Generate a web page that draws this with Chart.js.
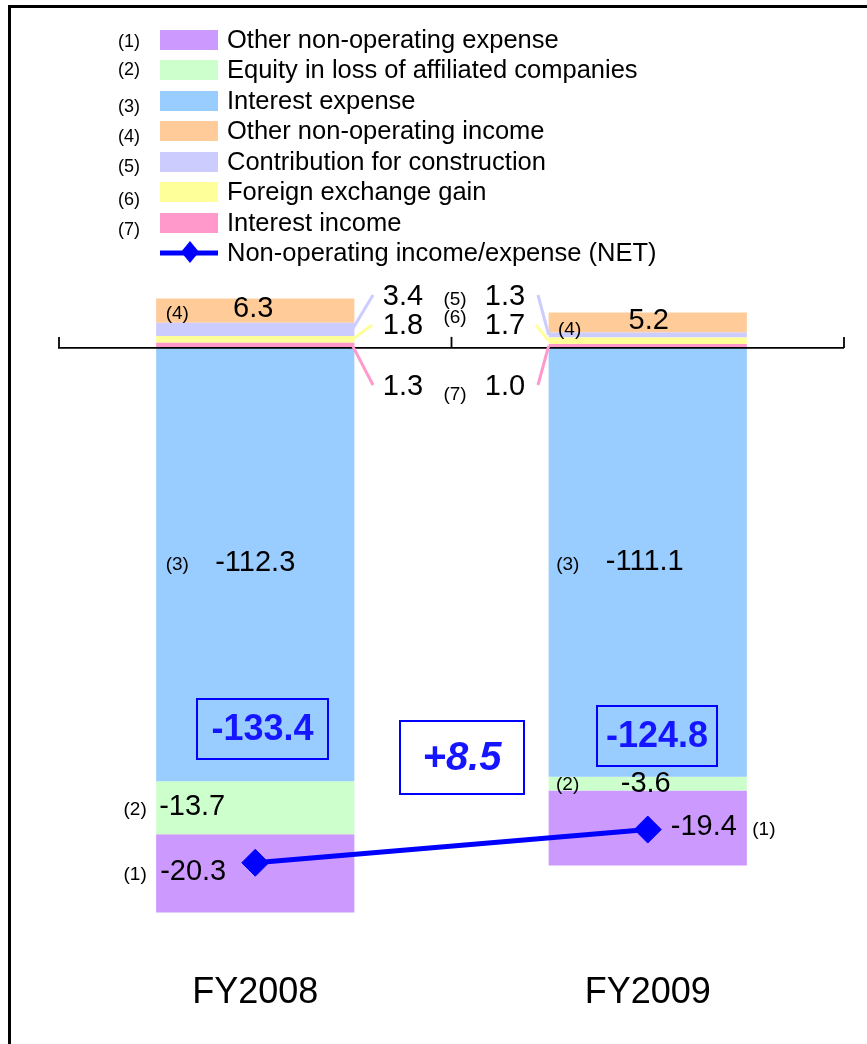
<!DOCTYPE html>
<html>
<head>
<meta charset="utf-8">
<script src="https://cdn.jsdelivr.net/npm/chart.js@4.4.0/dist/chart.umd.min.js"></script>
<style>
  html, body { margin: 0; padding: 0; background: #fff; }
  canvas { display: block; }
</style>
</head>
<body>
<canvas id="chart" width="867" height="1044"></canvas>
<script>
const categories = ["FY2008", "FY2009"];

const otherExpense = [-20.3, -19.4];
const equityLoss = [-13.7, -3.6];
const interestExpense = [-112.3, -111.1];
const otherIncome = [6.3, 5.2];
const contribution = [3.4, 1.3];
const fxGain = [1.8, 1.7];
const interestIncome = [1.3, 1.0];
const netTotal = [-133.4, -124.8];
const netChange = "+8.5";

const FONT = "Arial, 'Liberation Sans', sans-serif";
const BLUE = "#0000FF";
const VALUE_SIZE = 29;
const TAG_SIZE = 19;

// legend order (1)..(7)
const series = [
  { no: 1, label: "Other non-operating expense", data: otherExpense, color: "#CC99FF" },
  { no: 2, label: "Equity in loss of affiliated companies", data: equityLoss, color: "#CCFFCC" },
  { no: 3, label: "Interest expense", data: interestExpense, color: "#99CCFF" },
  { no: 4, label: "Other non-operating income", data: otherIncome, color: "#FFCC99" },
  { no: 5, label: "Contribution for construction", data: contribution, color: "#CCCCFF" },
  { no: 6, label: "Foreign exchange gain", data: fxGain, color: "#FFFF99" },
  { no: 7, label: "Interest income", data: interestIncome, color: "#FF99CC" },
];

// stacking goes outward from zero, so build the bars in that order
const stackOrder = [3, 2, 1, 7, 6, 5, 4];
const barSets = stackOrder.map((no) => {
  const s = series.find((x) => x.no === no);
  return {
    label: s.label,
    data: s.data,
    backgroundColor: s.color,
    borderWidth: 0,
    barPercentage: 0.505,
    categoryPercentage: 1,
    order: 1,
  };
});

const netSet = {
  type: "line",
  label: "Non-operating income/expense (NET)",
  data: netTotal,
  stack: "net",
  borderColor: BLUE,
  borderWidth: 5,
  backgroundColor: BLUE,
  pointStyle: "rectRot",
  pointRadius: 13.5,
  pointBorderWidth: 1,
  pointBorderColor: BLUE,
  pointBackgroundColor: BLUE,
  order: 0,
};

const fmt = (v) => v.toFixed(1);

const text = (ctx, str, x, y, size, align = "center", color = "#000", style = "") => {
  ctx.save();
  ctx.font = `${style} ${size}px ${FONT}`.trim();
  ctx.fillStyle = color;
  ctx.textAlign = align;
  ctx.textBaseline = "middle";
  ctx.fillText(str, x, y);
  ctx.restore();
};

const line = (ctx, x1, y1, x2, y2, color, w) => {
  ctx.save();
  ctx.strokeStyle = color;
  ctx.lineWidth = w;
  ctx.beginPath();
  ctx.moveTo(x1, y1);
  ctx.lineTo(x2, y2);
  ctx.stroke();
  ctx.restore();
};

const diamond = (ctx, x, y, w, h, color) => {
  ctx.save();
  ctx.fillStyle = color;
  ctx.beginPath();
  ctx.moveTo(x, y - h / 2);
  ctx.lineTo(x + w / 2, y);
  ctx.lineTo(x, y + h / 2);
  ctx.lineTo(x - w / 2, y);
  ctx.closePath();
  ctx.fill();
  ctx.restore();
};

// geometry of one stacked segment
const seg = (chart, no, i) => {
  const ds = stackOrder.indexOf(no);
  const bar = chart.getDatasetMeta(ds).data[i];
  const s = series.find((x) => x.no === no);
  return {
    x: bar.x,
    mid: (bar.y + bar.base) / 2,
    left: bar.x - bar.width / 2,
    right: bar.x + bar.width / 2,
    value: s.data[i],
    color: s.color,
  };
};

const frame = {
  id: "frame",
  beforeDraw(chart) {
    const { ctx } = chart;
    ctx.save();
    ctx.fillStyle = "#fff";
    ctx.fillRect(0, 0, chart.width, chart.height);
    ctx.strokeStyle = "#000";
    ctx.lineWidth = 3;
    ctx.strokeRect(9.5, 6.5, 1000, 1200);
    ctx.restore();

    // legend
    const rows = [40, 70, 101, 131, 162, 192, 223];
    const tagShift = [2, 0, 6, 6, 5, 8, 7];
    series.forEach((s, k) => {
      const y = rows[k];
      text(ctx, `(${s.no})`, 129, y + tagShift[k], 18);
      ctx.fillStyle = s.color;
      ctx.fillRect(160, y - 10, 58, 20);
      text(ctx, s.label, 227, y + 1, 25.5, "left");
    });
    line(ctx, 160, 253, 218, 253, BLUE, 5);
    diamond(ctx, 190, 252, 18, 22, BLUE);
    text(ctx, netSet.label, 227, 254, 25.5, "left");
  },
  afterDatasetsDraw(chart) {
    const { ctx } = chart;
    const xs = chart.scales.x;
    const y0 = chart.scales.y.getPixelForValue(0);

    // zero line with category ticks
    line(ctx, xs.left - 1, y0, xs.right, y0, "#000", 1.8);
    [xs.left, (xs.left + xs.right) / 2, xs.right].forEach((tx) => {
      line(ctx, tx, y0, tx, y0 - 11, "#000", 1.8);
    });

    categories.forEach((c, i) => {
      text(ctx, c, xs.getPixelForValue(i), 993, 36);
    });

    // FY2008 segment labels
    let s = seg(chart, 4, 0);
    text(ctx, "(4)", s.x - 78, s.mid + 3, TAG_SIZE);
    text(ctx, fmt(s.value), s.x - 2, s.mid - 2, VALUE_SIZE);
    s = seg(chart, 3, 0);
    text(ctx, "(3)", s.x - 78, s.mid, TAG_SIZE);
    text(ctx, fmt(s.value), s.x, s.mid - 2, VALUE_SIZE);
    s = seg(chart, 2, 0);
    text(ctx, "(2)", s.left - 21, s.mid + 2, TAG_SIZE);
    text(ctx, fmt(s.value), s.left + 3, s.mid - 1, VALUE_SIZE, "left");
    s = seg(chart, 1, 0);
    text(ctx, "(1)", s.left - 21, s.mid + 1, TAG_SIZE);
    text(ctx, fmt(s.value), s.left + 4, s.mid - 1, VALUE_SIZE, "left");

    // FY2009 segment labels
    s = seg(chart, 4, 1);
    text(ctx, "(4)", s.left + 21, s.mid + 7, TAG_SIZE);
    text(ctx, fmt(s.value), s.x + 1, s.mid - 1, VALUE_SIZE);
    s = seg(chart, 3, 1);
    text(ctx, "(3)", s.x - 80, s.mid + 2, TAG_SIZE);
    text(ctx, fmt(s.value), s.x - 3, s.mid, VALUE_SIZE);
    s = seg(chart, 2, 1);
    text(ctx, "(2)", s.left + 19, s.mid + 1, TAG_SIZE);
    text(ctx, fmt(s.value), s.x - 2, s.mid, VALUE_SIZE);
    s = seg(chart, 1, 1);
    text(ctx, fmt(s.value), s.x + 23, s.mid - 1, VALUE_SIZE, "left");
    text(ctx, "(1)", s.right + 17, s.mid + 2, TAG_SIZE);

    // thin segments get leader lines out to the gap between the bars
    const thin = [
      { no: 5, y: 296, tagY: 300 },
      { no: 6, y: 325, tagY: 318 },
      { no: 7, y: 386, tagY: 395 },
    ];
    const ends = [
      [[373, 295], [538, 295]],
      [[372, 325], [536, 325]],
      [[373, 385], [538, 385]],
    ];
    thin.forEach((t, k) => {
      const a = seg(chart, t.no, 0);
      const b = seg(chart, t.no, 1);
      line(ctx, a.right - 2, a.mid, ends[k][0][0], ends[k][0][1], a.color, 3);
      line(ctx, b.left, b.mid, ends[k][1][0], ends[k][1][1], b.color, 3);
      text(ctx, fmt(a.value), 403, t.y + 1, VALUE_SIZE);
      text(ctx, fmt(b.value), 505, t.y + 1, VALUE_SIZE);
      text(ctx, `(${t.no})`, 455, t.tagY, TAG_SIZE);
    });

    // NET totals and year-on-year change
    const box = (x, y, w, h, str, style, size) => {
      ctx.save();
      ctx.strokeStyle = BLUE;
      ctx.lineWidth = 2;
      ctx.strokeRect(x, y, w, h);
      ctx.restore();
      text(ctx, str, x + w / 2, y + h / 2 + 1, size, "center", "#1515FF", style);
    };
    box(197, 699, 131, 60, fmt(netTotal[0]), "bold", 36);
    box(597, 706, 120, 60, fmt(netTotal[1]), "bold", 36);
    box(400, 721, 124, 73, netChange, "italic bold", 40);
  },
};

new Chart(document.getElementById("chart"), {
  type: "bar",
  data: {
    labels: categories,
    datasets: [...barSets, netSet],
  },
  options: {
    responsive: false,
    animation: false,
    layout: {
      padding: { left: 59, right: 23, top: 290, bottom: 40 },
    },
    scales: {
      x: { display: false, stacked: true },
      y: { display: false, stacked: true, min: -170, max: 15 },
    },
    plugins: {
      legend: { display: false },
      tooltip: { enabled: false },
    },
  },
  plugins: [frame],
});
</script>
</body>
</html>
